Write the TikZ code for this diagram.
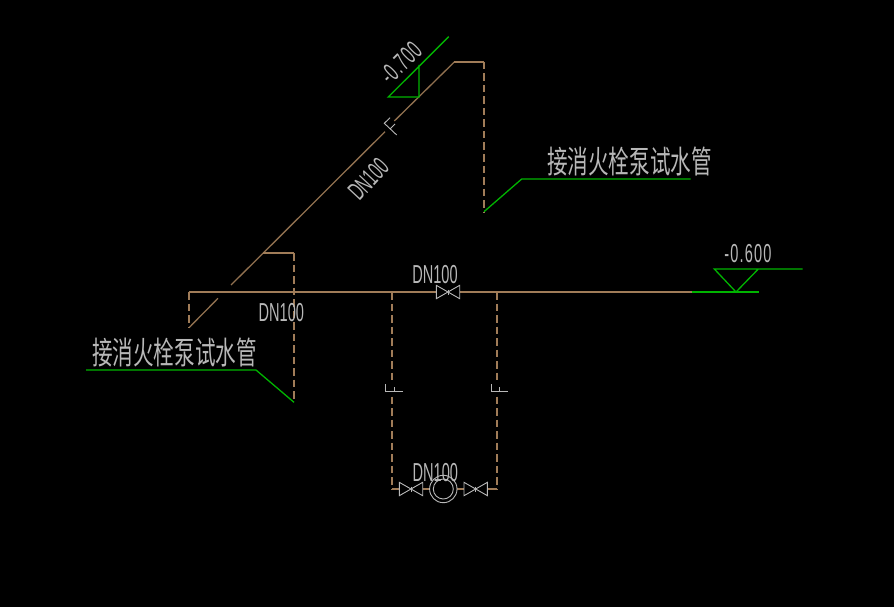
\documentclass[tikz,border=0pt]{standalone}
\usepackage{fontspec}
\setmainfont{Liberation Sans}
\newfontfamily\cjk{Noto Sans CJK SC}
\definecolor{pipeb}{HTML}{A07C58}
\definecolor{lev}{HTML}{00B400}
\definecolor{txt}{HTML}{B8B8B8}
\newcommand{\cadlabel}[1]{\scalebox{.56}[1]{\fontsize{26}{26}\selectfont #1}}
\newcommand{\cadlevel}[1]{\scalebox{.56}[1]{\fontsize{26}{26}\selectfont\addfontfeature{LetterSpace=8}#1}}
\newcommand{\cadcjk}[1]{\scalebox{.98}[1.5]{\cjk\fontsize{21}{21}\selectfont #1}}
\begin{document}
\begin{tikzpicture}[x=1pt,y=-1pt,
  pipe/.style={draw=pipeb,line width=1.3pt},
  thinpipe/.style={draw=pipeb!90!black,line width=1.3pt},
  dashpipe/.style={draw=pipeb,line width=1.3pt,dash pattern=on 7.5pt off 4pt},
  green line/.style={draw=lev,line width=1.3pt},
  sym/.style={draw=txt,line width=.9pt},
  lab/.style={text=txt,inner sep=0pt,outer sep=0pt}]
\useasboundingbox[fill=black] (0,0) rectangle (894,607);
% key points
\coordinate (a1) at (218,298.3);
\coordinate (a2) at (189,327.7);
\coordinate (a3) at (189,292);
\coordinate (m1) at (392,292);
\coordinate (m2) at (436,292);
\coordinate (m3) at (460,292);
\coordinate (m4) at (497,292);
\coordinate (m5) at (691.7,292);
\coordinate (b1) at (231,285);
\coordinate (b2) at (263.3,253);
\coordinate (b3) at (294,253);
\coordinate (b4) at (294,402.3);
\coordinate (b5) at (385,131.7);
\coordinate (c1) at (394.3,121);
\coordinate (c2) at (454.3,62);
\coordinate (c3) at (484,62);
\coordinate (c4) at (484,211.7);
\coordinate (l1) at (392,381.7);
\coordinate (l2) at (392,396.7);
\coordinate (l3) at (392,489);
\coordinate (r1) at (497,381.7);
\coordinate (r2) at (497,396.7);
\coordinate (r3) at (497,489);
% pipes
\draw[thinpipe] (a2) -- (a1);
\draw[pipe] (a3) -- (m2);
\draw[pipe] (m3) -- (m5);
\draw[dashpipe] (a3) -- (a2);
\draw[thinpipe] (b1) -- (b2) -- (b5);
\draw[pipe] (b2) -- (b3);
\draw[dashpipe] (b3) -- (b4);
\draw[thinpipe] (c1) -- (c2);
\draw[pipe] (c2) -- (c3);
\draw[dashpipe] (c3) -- (c4);
\draw[dashpipe] (m1) -- (l1);
\draw[dashpipe] (l2) -- (l3);
\draw[dashpipe] (m4) -- (r1);
\draw[dashpipe] (r2) -- (r3);
\coordinate (v1l) at (399.3,489);
\coordinate (v1r) at (422.7,489);
\coordinate (pl) at (429.6,489);
\coordinate (pr) at (457,489);
\coordinate (v2l) at (464,489);
\coordinate (v2r) at (487.3,489);
\draw[pipe] (l3) -- (v1l);
\draw[pipe] (v1r) -- (pl);
\draw[pipe] (pr) -- (v2l);
\draw[pipe] (v2r) -- (r3);
% flange marks
\draw[sym] (396.7,135) -- (384.3,123.3) -- (390,117.7) (390,129) -- (395,124);
\draw[sym] (402.7,391) -- (385.7,391) -- (385.7,384.3) (394,391) -- (394,386.7);
\draw[sym] (507.7,391) -- (491,391) -- (491,384.3) (499.3,391) -- (499.3,386.7);
% valves
\foreach \cx/\cy in {448/292, 411/489, 475.7/489}{
  \draw[sym] (\cx-11.7,\cy-6.7) -- (\cx+11.7,\cy+6.7) -- (\cx+11.7,\cy-6.7) -- (\cx-11.7,\cy+6.7) -- cycle;
  \draw[sym] (\cx,\cy-2.5) -- (\cx,\cy+2.5);
}
% pump
\node[circle,sym,minimum size=27.4pt,inner sep=0pt] (pumpo) at (443.3,489) {};
\node[circle,sym,minimum size=20pt,inner sep=0pt] (pumpi) at (443.3,489) {};
% level marks
\coordinate (g1) at (448.7,36.7);
\coordinate (g2) at (388.3,97);
\coordinate (g3) at (419,97);
\coordinate (g4) at (419,65);
\draw[green line] (g1) -- (g2) -- (g3) -- (g4);
\coordinate (h1) at (802.7,269);
\coordinate (h2) at (714.3,269);
\coordinate (h3) at (736,292);
\coordinate (h4) at (758.3,269);
\coordinate (h5) at (758.7,292);
\draw[green line] (h1) -- (h2) -- (h3) -- (h4);
\draw[green line] (m5) -- (h5);
% leaders
\coordinate (k1) at (521.7,179);
\coordinate (k2) at (690.7,179);
\draw[green line] (c4) -- (k1) -- (k2);
\coordinate (q1) at (256,370);
\coordinate (q2) at (86,370);
\draw[green line] (b4) -- (q1) -- (q2);
% texts
\node[lab,rotate=45] (t1) at (400.7,62.7) {\cadlevel{-0.700}};
\node[lab,rotate=47] (t2) at (368.3,179.3) {\cadlabel{DN100}};
\node[lab] (t3) at (281.3,313) {\cadlabel{DN100}};
\node[lab] (t4) at (435,275) {\cadlabel{DN100}};
\node[lab] (t5) at (435.3,473) {\cadlabel{DN100}};
\node[lab] (t6) at (748,254) {\cadlevel{-0.600}};
\node[lab] (t7) at (629.5,161.5) {\cadcjk{接消火栓泵试水管}};
\node[lab] (t8) at (174.5,352.5) {\cadcjk{接消火栓泵试水管}};
\end{tikzpicture}
\end{document}
